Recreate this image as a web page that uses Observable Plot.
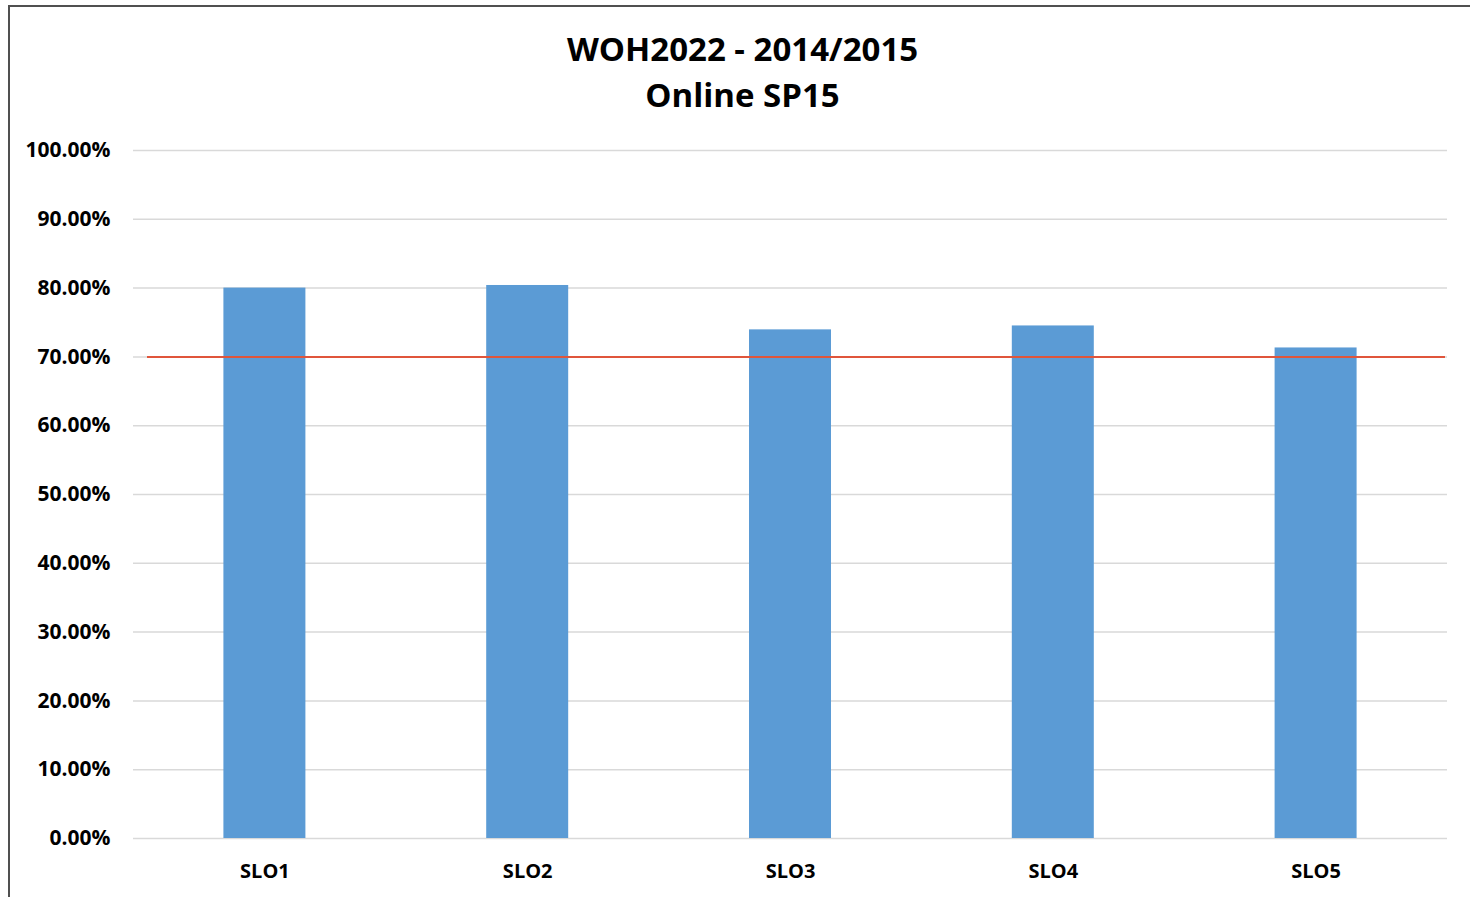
<!DOCTYPE html>
<html>
<head>
<meta charset="utf-8">
<script src="https://cdn.jsdelivr.net/npm/d3@7"></script>
<script src="https://cdn.jsdelivr.net/npm/@observablehq/plot@0.6"></script>
<style>
  html, body { margin: 0; padding: 0; background: #fff; overflow: hidden; width: 1470px; height: 897px; }
  #frame { position: absolute; left: 8px; top: 5px; width: 1500px; height: 1000px; border-left: 2px solid #505050; border-top: 2px solid #505050; box-sizing: border-box; }
  #title { position: absolute; left: 0; top: 0; width: 1485px; height: 130px; text-align: center; font-family: "Open Sans", sans-serif; font-weight: 700; font-size: 33px; color: #000; }
  #title .l1 { position: absolute; left: 0; right: 0; top: 26px; line-height: 46px; }
  #chart { position: absolute; left: 0; top: 130px; }
</style>
</head>
<body>
<div id="frame"></div>
<div id="title"><div class="l1">WOH2022 - 2014/2015<br>Online SP15</div></div>
<div id="chart"></div>
<script>
const categories = ["SLO1", "SLO2", "SLO3", "SLO4", "SLO5"];
const values = [80.0, 80.38, 73.93, 74.5, 71.3];
const target = [70];
const yTicks = [0, 10, 20, 30, 40, 50, 60, 70, 80, 90, 100];

const data = categories.map((c, i) => ({slo: c, pct: values[i]}));

const chart = Plot.plot({
  width: 1470,
  height: 767,
  marginTop: 20,
  marginBottom: 59,
  marginLeft: 133,
  marginRight: 23,
  style: { fontFamily: "Open Sans, sans-serif", fontWeight: 700, color: "#000", background: "transparent" },
  x: { domain: categories, paddingInner: 0.688, paddingOuter: 0.344, round: false, label: null, tickSize: 0, tickPadding: 25 },
  y: { domain: [0, 100], ticks: yTicks, label: null, tickSize: 0, tickPadding: 23, tickFormat: d => d3.format(".2f")(d) + "%" },
  marks: [
    Plot.ruleY(yTicks, { stroke: "#D9D9D9", strokeWidth: 1.5 }),
    Plot.barY(data, { x: "slo", y: "pct", fill: "#5B9BD5" }),
    Plot.ruleY(target, { stroke: "#E0553B", strokeWidth: 2, insetLeft: 14, insetRight: 2 }),
    Plot.axisY({ ticks: yTicks, tickSize: 0, tickPadding: 23, fontSize: 21, fontWeight: 700, tickFormat: d => d3.format(".2f")(d) + "%" }),
    Plot.axisX({ tickSize: 0, tickPadding: 25, fontSize: 20, fontWeight: 700 })
  ]
});
document.getElementById("chart").appendChild(chart);
</script>
</body>
</html>
